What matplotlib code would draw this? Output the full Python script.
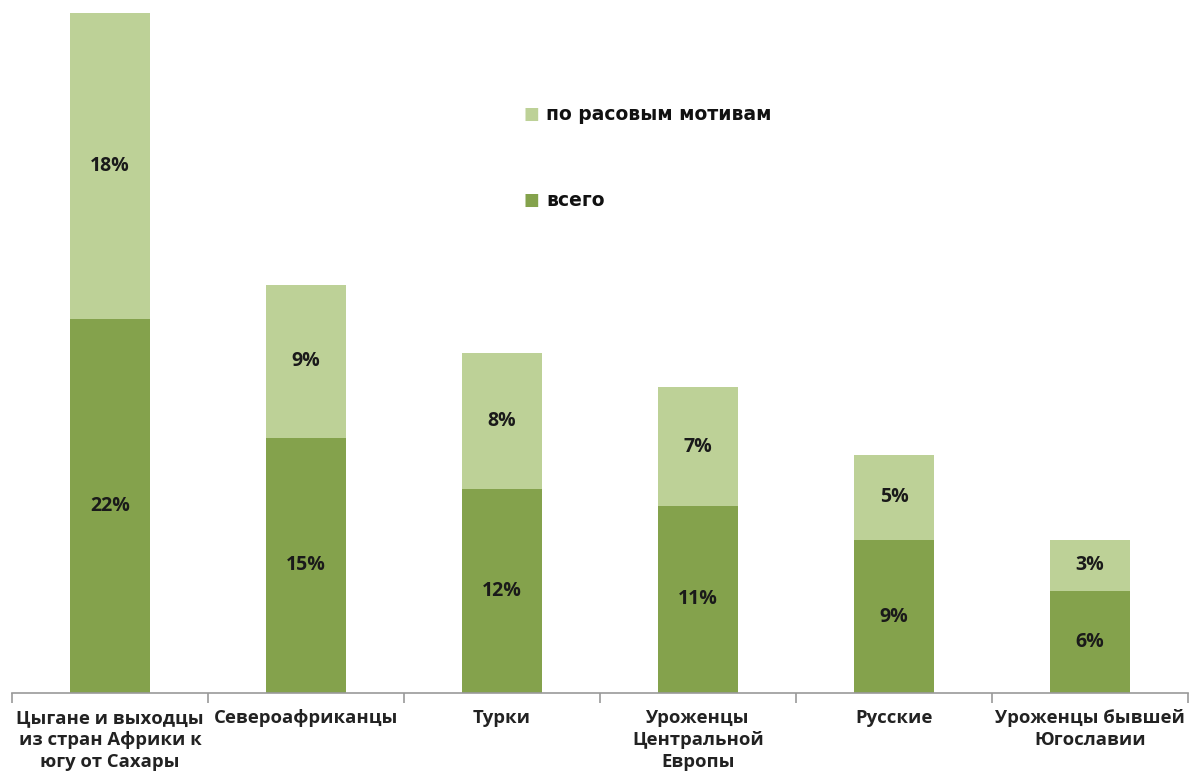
import matplotlib
matplotlib.use("Agg")
import matplotlib.pyplot as plt

categories = ["Цыгане и выходцы\nиз стран Африки к\nюгу от Сахары", "Североафриканцы", "Турки",
              "Уроженцы\nЦентральной\nЕвропы", "Русские", "Уроженцы бывшей\nЮгославии"]
total = [22, 15, 12, 11, 9, 6]
racial = [18, 9, 8, 7, 5, 3]
series_names = ["всего", "по расовым мотивам"]

dark = "#84A24C"
light = "#BDD197"
plt.rcParams['font.family'] = ['Open Sans', 'DejaVu Sans']

fig = plt.figure(figsize=(11.91, 7.82), dpi=100)
ax = fig.add_axes([12/1191, (782-693)/782, 1176/1191, 693/782])
x = list(range(len(categories)))
w = 0.41
b1 = ax.bar(x, total, width=w, color=dark, label=series_names[0], zorder=2)
b2 = ax.bar(x, racial, width=w, bottom=total, color=light, label=series_names[1], zorder=2)
for i in x:
    ax.text(i, total[i] / 2, f"{total[i]}%", ha='center', va='center', fontsize=14, fontweight='bold', color='#1a1a1a')
    ax.text(i, total[i] + racial[i] / 2, f"{racial[i]}%", ha='center', va='center', fontsize=14, fontweight='bold', color='#1a1a1a')

ax.set_xlim(-0.5, len(categories) - 0.5)
ax.set_ylim(0, 693/17)
for s in ['top', 'right', 'left']:
    ax.spines[s].set_visible(False)
ax.spines['bottom'].set_color('#999999')
ax.spines['bottom'].set_linewidth(1.2)
ax.set_yticks([])
ax.set_xticks([i - 0.5 for i in range(len(categories) + 1)])
ax.set_xticklabels([])
ax.tick_params(axis='x', length=7, color='#999999', width=1.2)
for i, c in enumerate(categories):
    ax.text(i, -0.95, c, ha='center', va='top', fontsize=13.3, fontweight='bold', color='#222222',
            linespacing=1.27)

# legend
fig.text(531/1191, 1 - 115/782, "■", color=light, fontsize=12, va='center', ha='center')
fig.text(546/1191, 1 - 115/782, series_names[1], color='#111111', fontsize=13.5, fontweight='bold', va='center',
         family='DejaVu Sans')
fig.text(531/1191, 1 - 201/782, "■", color=dark, fontsize=12, va='center', ha='center')
fig.text(546/1191, 1 - 201/782, series_names[0], color='#111111', fontsize=13.5, fontweight='bold', va='center',
         family='DejaVu Sans')

fig.savefig("out.png", dpi=100)
